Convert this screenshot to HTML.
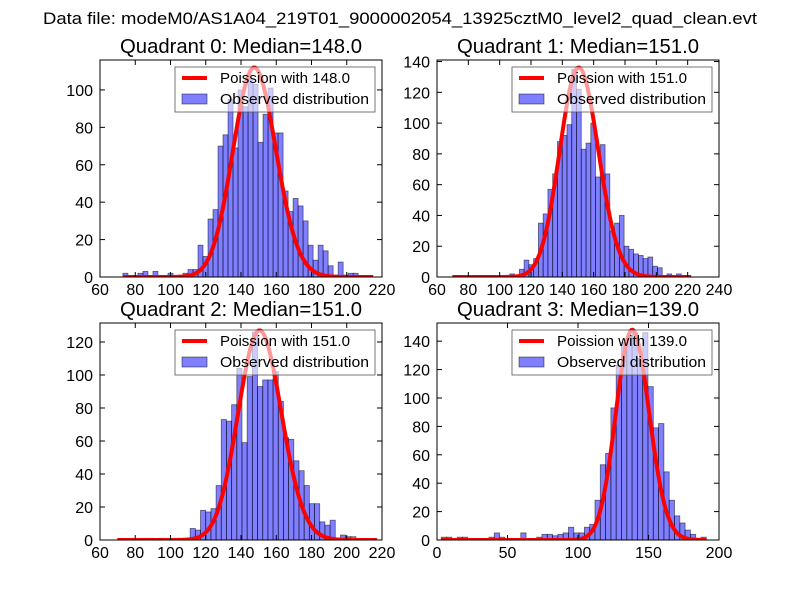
<!DOCTYPE html>
<html><head><meta charset="utf-8">
<style>
html,body{margin:0;padding:0;background:#fff;}
svg{display:block;font-family:"Liberation Sans","DejaVu Sans",sans-serif;}
</style></head>
<body>
<svg id="fig" width="800" height="600" viewBox="0 0 800 600">
<rect width="800" height="600" fill="#fff"/>
<text x="400" y="24" text-anchor="middle" font-size="17" textLength="714" lengthAdjust="spacingAndGlyphs">Data file: modeM0/AS1A04_219T01_9000002054_13925cztM0_level2_quad_clean.evt</text>
</svg>
<script>
const q0Counts = [2,0,0,2,3,0,3,0,0,2,0,1,2,4,4,17,11,31,36,70,76,95,69,100,91,106,103,72,87,101,77,77,46,35,42,38,30,17,9,17,14,6,1,8,1,2,2,0,0,0];
const q1Counts = [1,0,0,0,0,0,0,1,1,0,0,1,2,0,5,11,8,12,35,41,57,67,88,92,99,135,122,83,87,100,65,86,67,30,35,40,20,18,15,14,12,13,7,6,0,2,1,2,0,1];
const q2Counts = [1,0,0,0,1,1,1,0,1,1,1,1,0,0,7,6,18,17,19,33,73,72,82,104,59,99,126,93,97,97,102,84,62,61,48,42,33,22,22,11,9,12,0,3,2,2,0,0,0,1];
const q3Counts = [2,2,0,2,2,0,0,0,0,2,5,2,0,0,0,5,0,0,2,4,4,3,4,5,9,5,5,9,11,28,53,61,93,123,139,143,146,128,146,108,79,82,48,28,17,12,7,4,0,2];
const binStart = [73,70,70,3];
const binEnd = [215,222,217,191];
const medians = [148.0,151.0,151.0,139.0];
const poissonScale = [3415,4190,3912,4374];
const xTicks = [[60,80,100,120,140,160,180,200,220],[60,80,100,120,140,160,180,200,220,240],[60,80,100,120,140,160,180,200,220],[0,50,100,150,200]];
const yTicks = [[0,20,40,60,80,100],[0,20,40,60,80,100,120,140],[0,20,40,60,80,100,120],[0,20,40,60,80,100,120,140]];
const xLims = [[60,220],[60,240],[60,220],[0,200]];
const yMax = [116,141,131.5,152.8];
const allCounts = [q0Counts,q1Counts,q2Counts,q3Counts];

const NS="http://www.w3.org/2000/svg";
const svg=document.getElementById('fig');
function mk(tag,attrs,parent){const e=document.createElementNS(NS,tag);for(const k in attrs)e.setAttribute(k,attrs[k]);(parent||svg).appendChild(e);return e;}
function lgamma(x){
  let s=0; while(x<7){s-=Math.log(x);x+=1;}
  return s+(x-0.5)*Math.log(x)-x+0.5*Math.log(2*Math.PI)+1/(12*x)-1/(360*x*x*x);
}
const boxes=[[100,60,382,277],[437,60,719,277],[100,323,382,540],[437,323,719,540]];
for(let p=0;p<4;p++){
  const [L,T,R,B]=boxes[p];
  const g=mk('g',{});
  
  
  const xs=v=>L+(v-xLims[p][0])/(xLims[p][1]-xLims[p][0])*(R-L);
  const ys=v=>B-v/yMax[p]*(B-T);
  const t=mk('text',{x:(L+R)/2,y:T-7,'text-anchor':'middle','font-size':'20',textLength:'242',lengthAdjust:'spacingAndGlyphs'},g);
  t.textContent='Quadrant '+p+': Median='+medians[p].toFixed(1);
  
  
  const counts=allCounts[p];
  const bw=(binEnd[p]-binStart[p])/counts.length;
  counts.forEach((c,i)=>{
    if(c<=0)return;
    const x0=xs(binStart[p]+i*bw),x1=xs(binStart[p]+(i+1)*bw);
    const r=mk('rect',{x:x0,y:ys(c),width:x1-x0,height:B-ys(c),fill:'rgba(0,0,255,0.5)',stroke:'rgba(0,0,0,0.55)','stroke-width':'0.8'},g);
    
    
  });
  let d='';const mu=medians[p];
  for(let k=binStart[p];k<=binEnd[p];k+=0.5){
    const v=poissonScale[p]*Math.exp(k*Math.log(mu)-mu-lgamma(k+1));
    d+=(d?'L':'M')+xs(k).toFixed(2)+','+ys(v).toFixed(2);
  }
  const cp=mk('clipPath',{id:'clip'+p},g);mk('rect',{x:L,y:T,width:R-L,height:B-T},cp);
  const pl=mk('path',{d:d,fill:'none',stroke:'#ff0000','stroke-width':'4','clip-path':'url(#clip'+p+')'},g);
  
  
  mk('rect',{x:L,y:T,width:R-L,height:B-T,fill:'none',stroke:'#000','stroke-width':'1'},g);
  xTicks[p].forEach(v=>{
    const x=xs(v);
    mk('line',{x1:x,y1:B,x2:x,y2:B-5,stroke:'#000'},g);
    mk('line',{x1:x,y1:T,x2:x,y2:T+5,stroke:'#000'},g);
    const tl=mk('text',{x:x,y:B+18,'text-anchor':'middle','font-size':'16'},g);
    tl.textContent=v;
    
    
  });
  yTicks[p].forEach(v=>{
    const y=ys(v);
    mk('line',{x1:L,y1:y,x2:L+5,y2:y,stroke:'#000'},g);
    mk('line',{x1:R,y1:y,x2:R-5,y2:y,stroke:'#000'},g);
    const tl=mk('text',{x:L-7,y:y+6,'text-anchor':'end','font-size':'16'},g);
    tl.textContent=v;
    
    
  });
  const lg=mk('g',{},g);
  
  
  const lx=L+75,ly=T+7;
  mk('rect',{x:lx,y:ly,width:200,height:45,fill:'rgba(255,255,255,0.6)',stroke:'#555','stroke-width':'0.8'},lg);
  mk('line',{x1:lx+7,y1:ly+11,x2:lx+32,y2:ly+11,stroke:'#ff0000','stroke-width':'4'},lg);
  const t1=mk('text',{x:lx+45,y:ly+16,'font-size':'15',textLength:'130',lengthAdjust:'spacingAndGlyphs'},lg);t1.textContent='Poission with '+medians[p].toFixed(1);
  
  
  mk('rect',{x:lx+7,y:ly+27,width:25,height:10,fill:'rgba(0,0,255,0.5)',stroke:'rgba(0,0,0,0.55)','stroke-width':'0.8'},lg);
  const t2=mk('text',{x:lx+45,y:ly+37,'font-size':'15',textLength:'149',lengthAdjust:'spacingAndGlyphs'},lg);t2.textContent='Observed distribution';
  
  
}
</script>
</body></html>
